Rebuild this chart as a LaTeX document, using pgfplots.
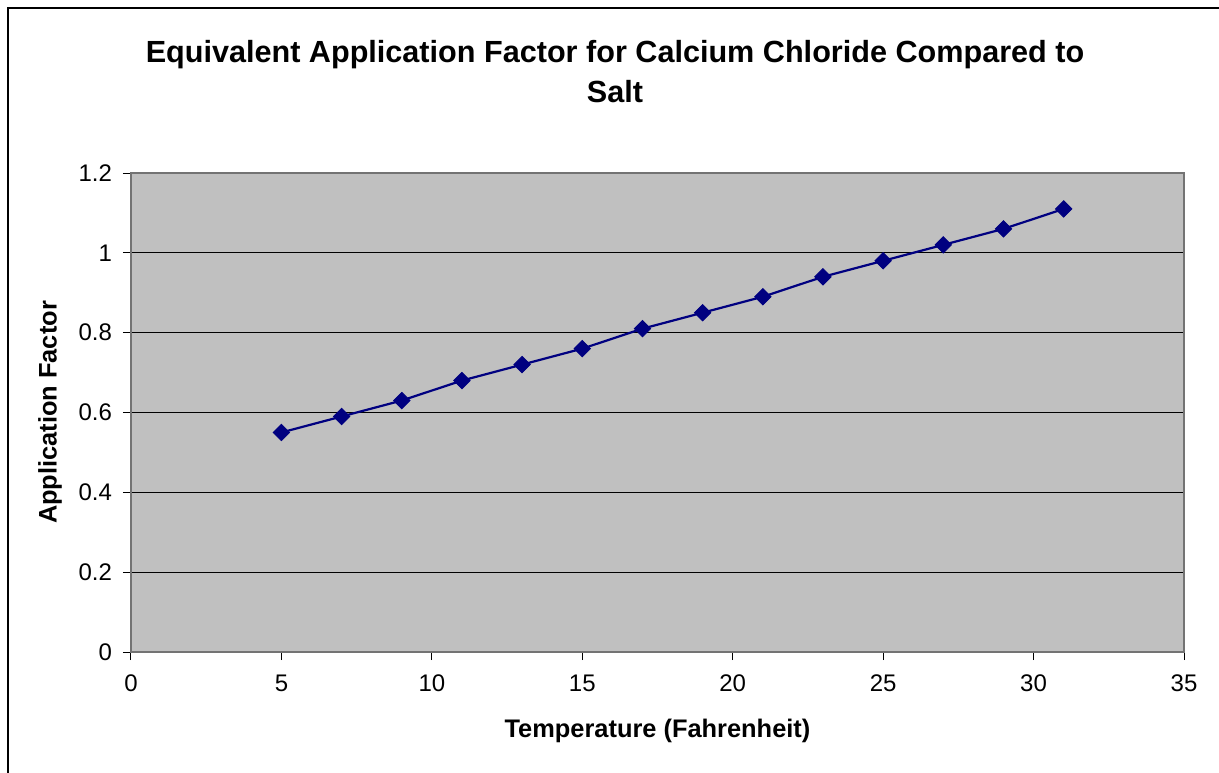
\documentclass[border=0pt]{standalone}
\usepackage{pgfplots}
\pgfplotsset{compat=1.18}
\usepackage{fontspec}
\setmainfont{Liberation Sans}
\definecolor{plotbg}{HTML}{C0C0C0}
\definecolor{navy}{HTML}{000080}
\begin{document}
\begin{tikzpicture}[x=1pt,y=1pt]
\useasboundingbox (-65.5,-60) rectangle (544,326);
\draw[black,line width=0.6pt] (-61.5,-70) -- (-61.5,322) -- (560,322);
\begin{axis}[
  at={(0,0)}, anchor=south west,
  scale only axis,
  width=526.5pt, height=239.5pt,
  xmin=0, xmax=35, ymin=0, ymax=1.2,
  xtick={0,5,...,35}, ytick={0,0.2,...,1.2},
  yticklabels={0,0.2,0.4,0.6,0.8,1,1.2},
  axis background/.style={fill=plotbg},
  axis line style={draw=gray!90!black, line width=0.8pt},
  ymajorgrids, major grid style={black, line width=0.5pt},
  tick style={black, line width=0.5pt},
  tick align=outside, major tick length=4pt,
  xtick pos=bottom, ytick pos=left,
  /pgf/number format/assume math mode=true,
  ticklabel style={font=\fontsize{12}{14}\selectfont},
  xticklabel style={yshift=-4pt},
  yticklabel style={xshift=-2pt},
  xlabel={\textbf{Temperature (Fahrenheit)}},
  ylabel={\textbf{Application Factor}},
  label style={font=\fontsize{12.7}{14}\selectfont},
  xlabel style={at={(axis description cs:0.5,0)}, anchor=center, yshift=-39.5pt},
  every axis y label/.append style={at={(-40.5pt,119.75pt)}, anchor=center},
]
\addplot[navy, line width=1.1pt, mark=square*, mark size=2.9pt, mark options={fill=navy, draw=navy, rotate=45, line width=0.4pt}]
coordinates {
(5,0.55) (7,0.59) (9,0.63) (11,0.68) (13,0.72) (15,0.76) (17,0.81)
(19,0.85) (21,0.89) (23,0.94) (25,0.98) (27,1.02) (29,1.06) (31,1.11)
};
\end{axis}
\node[font=\fontsize{15.3}{20}\selectfont\bfseries, align=center] at (242,290)
 {Equivalent Application Factor for Calcium Chloride Compared to\\Salt};
\end{tikzpicture}
\end{document}
